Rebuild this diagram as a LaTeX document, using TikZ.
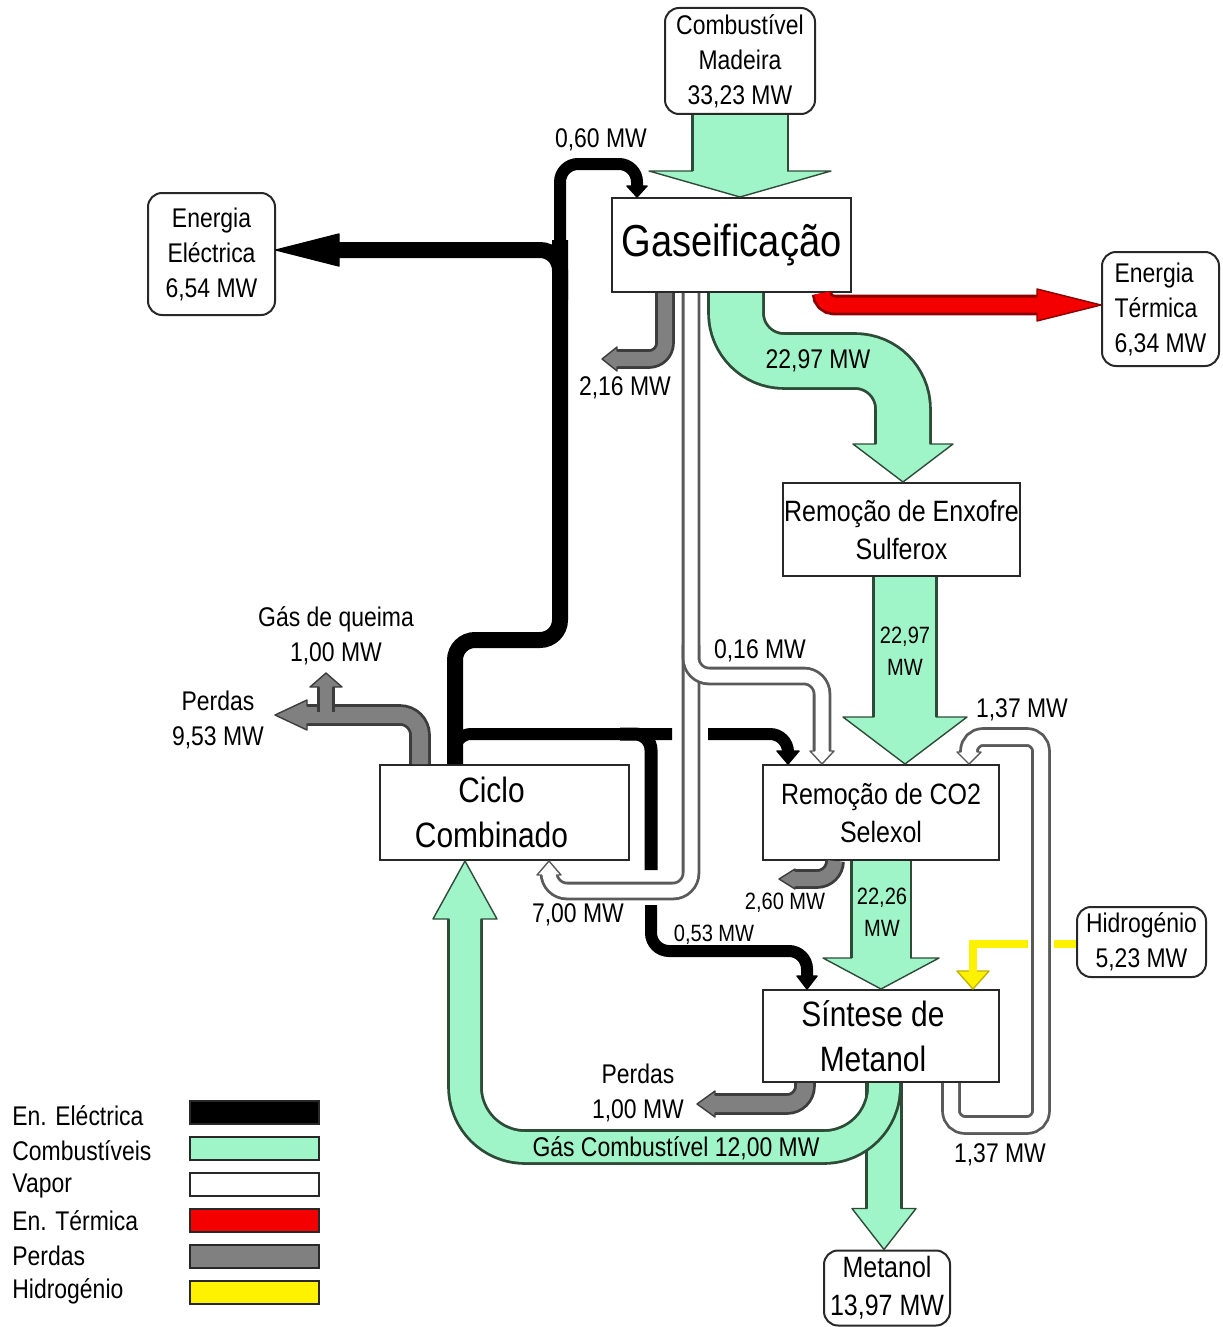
\documentclass[tikz,border=0pt]{standalone}
\usepackage{fontspec}
\setmainfont{Liberation Sans}[FakeStretch=0.85]
\definecolor{fuelfill}{RGB}{160,245,200}
\definecolor{fuelline}{RGB}{45,75,55}
\definecolor{steamfill}{RGB}{255,255,255}
\definecolor{steamline}{RGB}{90,90,90}
\definecolor{lossfill}{RGB}{128,128,128}
\definecolor{lossline}{RGB}{60,60,60}
\definecolor{heatfill}{RGB}{245,0,0}
\definecolor{heatline}{RGB}{140,0,0}
\definecolor{elecfill}{RGB}{0,0,0}
\definecolor{elecline}{RGB}{0,0,0}
\definecolor{hydrofill}{RGB}{255,242,0}
\definecolor{hydroline}{RGB}{190,180,0}
\definecolor{boxline}{RGB}{40,40,40}
\newcommand{\txtlabel}{\fontsize{13.5}{17.5}\selectfont}
\newcommand{\txtsmall}{\fontsize{11.8}{16}\selectfont}
\newcommand{\txtbox}{\fontsize{14.7}{19}\selectfont}
\newcommand{\txtbig}{\fontsize{17.6}{22.5}\selectfont}
\newcommand{\txtgas}{\fontsize{22.4}{26}\selectfont}
\newcommand{\flowtip}[6]{%
    \begin{scope}[shift={#2}, rotate=#3]
        \fill [#1fill] (-#6,-#5) -- (0,0) -- (-#6,#5) -- cycle;
        \draw [#1line, line width=0.7pt, line join=round] (-#6,-#4) -- (-#6,-#5) -- (0,0) -- (-#6,#5) -- (-#6,#4);
    \end{scope}}
\tikzset{
    proc/.style={draw=boxline, fill=white, line width=1pt, inner sep=0pt, align=center},
    ends/.style={proc, rounded corners=7pt},
    flowlabel/.style={font=\txtlabel, inner sep=0pt, align=center},
    pipe/.style 2 args={preaction={draw=#2, line width=\pgflinewidth+1.4pt}, draw=#1},
    fuel/.style={pipe={fuelfill}{fuelline}},
    steam/.style={pipe={steamfill}{steamline}},
    loss/.style={pipe={lossfill}{lossline}},
    heat/.style={pipe={heatfill}{heatline}},
    elec/.style={draw=elecfill},
    hydro/.style={draw=hydrofill}
}
\begin{document}
\begin{tikzpicture}[x=0.5pt,y=-0.5pt]
        \useasboundingbox (0,0) rectangle (1222,1327);
        \node [ends, font=\txtlabel, minimum width=75pt, minimum height=53pt] (comb) at (740,61) {Combustível\\Madeira\\33,23 MW};
        \node [proc, font=\txtgas, minimum width=119.5pt, minimum height=47pt] (gas) at (731.5,245) {Gaseificação};
        \node [ends, font=\txtlabel, minimum width=63.5pt, minimum height=61pt] (eel) at (211.5,254) {Energia\\Eléctrica\\6,54 MW};
        \node [ends, font=\txtlabel, align=left, minimum width=58.5pt, minimum height=57pt] (eterm) at (1160.5,309) {Energia\\Térmica\\6,34 MW};
        \node [proc, font=\txtbox, minimum width=118.5pt, minimum height=46.5pt] (enx) at (901.5,529.5) {Remoção de Enxofre\\Sulferox};
        \node [proc, font=\txtbig, minimum width=124.5pt, minimum height=47.5pt] (ciclo) at (504.5,812.5) {\hspace*{-13pt}Ciclo\\\hspace*{-13pt}Combinado};
        \node [proc, font=\txtbox, minimum width=118pt, minimum height=47.5pt] (co2) at (881,812.5) {Remoção de CO2\\Selexol};
        \node [proc, font=\txtbig, minimum width=118pt, minimum height=46pt] (sint) at (881,1036) {\hspace*{-8pt}Síntese de\\\hspace*{-8pt}Metanol};
        \node [ends, font=\txtlabel, minimum width=64.5pt, minimum height=35pt] (hid) at (1141.5,942) {Hidrogénio\\5,23 MW};
        \node [ends, font=\txtbox, minimum width=63pt, minimum height=37.5pt] (met) at (887,1288) {Metanol\\13,97 MW};
        \coordinate (lossgas) at (602,359);
        \coordinate (lossco2) at (779,879);
        \coordinate (losssint) at (697,1104);
        \coordinate (lossciclo) at (275,715);
        \coordinate (fluegas) at (326,673);

        \draw [hydro, line width=4pt] (hid.west |- 0,944) -- (1054,944);
        \draw [hydro, line width=4pt, shorten >=9pt] (1028,944) -- (973,944) -- (973,0 |- sint.north);
        \flowtip{hydro}{(973,0 |- sint.north)}{-90}{4}{16}{18}

        \draw [elec, line width=8pt, rounded corners=10pt] (455,0 |- ciclo.north) -- (455,640) -- (560,640) -- (560,240);
        \draw [elec, line width=6pt, rounded corners=9pt, shorten >=5.5pt] (560,260) -- (560,164) -- (637,164) -- (637,0 |- gas.north);
        \flowtip{elec}{(637,0 |- gas.north)}{-90}{6}{10}{11}
        \draw [elec, line width=8pt, rounded corners=10pt, shorten >=31.5pt] (560,300) -- (560,250) -- (eel.east |- 0,250);
        \flowtip{elec}{(eel.east |- 0,250)}{180}{8}{16}{63}
        \draw [elec, line width=6pt, rounded corners=8pt] (455,0 |- ciclo.north) -- (455,734) -- (672,734);
        \draw [elec, line width=6.5pt, rounded corners=8pt] (620,734) -- (651,734) -- (651,870);
        \draw [elec, line width=6pt, rounded corners=9pt, shorten >=6.5pt] (651,905) -- (651,951) -- (807,951) -- (807,0 |- sint.north);
        \flowtip{elec}{(807,0 |- sint.north)}{-90}{6}{10}{13}
        \draw [elec, line width=6pt, rounded corners=9pt, shorten >=6.5pt] (708,734) -- (788,734) -- (788,0 |- co2.north);
        \flowtip{elec}{(788,0 |- co2.north)}{-90}{6}{11}{13}

        \draw [steam, line width=6.5pt, rounded corners=9pt, shorten >=7pt] (691,0 |- gas.south) -- (691,891) -- (549,891) -- (549,0 |- ciclo.south);
        \flowtip{steam}{(549,0 |- ciclo.south)}{90}{7.2}{12}{14}
        \draw [steam, line width=6.5pt, rounded corners=9pt, shorten >=6.5pt] (691,645) -- (691,676) -- (822,676) -- (822,0 |- co2.north);
        \flowtip{steam}{(822,0 |- co2.north)}{-90}{7.2}{12}{13}
        \draw [steam, line width=7pt, rounded corners=7pt, shorten >=6pt] (951,0 |- sint.south) -- (951,1125) -- (1041,1125) -- (1041,737) -- (969,737) -- (969,0 |- co2.north);
        \flowtip{steam}{(969,0 |- co2.north)}{-90}{7.7}{12}{12}

        \draw [fuel, line width=46.5pt, shorten >=13pt] (740,0 |- comb.south) -- (740,0 |- gas.north);
        \flowtip{fuel}{(740,0 |- gas.north)}{-90}{47.2}{91}{26}
        \draw [fuel, line width=26pt, rounded corners=24pt, shorten >=19pt] (736,0 |- gas.south) -- (736,361) -- (903,361) -- (903,0 |- enx.north);
        \flowtip{fuel}{(903,0 |- enx.north)}{-90}{26.7}{50}{38}
        \draw [fuel, line width=30pt, shorten >=23.5pt] (905,0 |- enx.south) -- (905,0 |- co2.north);
        \flowtip{fuel}{(905,0 |- co2.north)}{-90}{30.7}{62}{47}
        \draw [fuel, line width=28.5pt, shorten >=15.5pt] (881,0 |- co2.south) -- (881,0 |- sint.north);
        \flowtip{fuel}{(881,0 |- sint.north)}{-90}{29.2}{58}{31}
        \draw [fuel, line width=16pt, shorten >=20.5pt] (884,0 |- sint.south) -- (884,0 |- met.north);
        \flowtip{fuel}{(884,0 |- met.north)}{-90}{16.7}{32}{41}
        \draw [fuel, line width=15pt, rounded corners=30pt, shorten >=29pt] (884,0 |- sint.south) -- (884,1147) -- (465,1147) -- (465,0 |- ciclo.south);
        \flowtip{fuel}{(465,0 |- ciclo.south)}{90}{15.7}{32}{58}

        \draw [heat, line width=7.5pt, rounded corners=6pt, shorten >=32pt] (822,0 |- gas.south) -- (822,305) -- (eterm.west |- 0,305);
        \flowtip{heat}{(eterm.west |- 0,305)}{0}{8.2}{16}{64}

        \draw [loss, line width=7pt, rounded corners=8pt, shorten >=7.5pt] (665,0 |- gas.south) -- (665,359) -- (lossgas);
        \flowtip{loss}{(lossgas)}{180}{7.7}{12}{15}
        \draw [loss, line width=7pt, rounded corners=9pt, shorten >=8pt] (835,0 |- co2.south) -- (835,879) -- (lossco2);
        \flowtip{loss}{(lossco2)}{180}{7.7}{10}{16}
        \draw [loss, line width=8pt, rounded corners=9pt, shorten >=9pt] (805,0 |- sint.south) -- (805,1104) -- (losssint);
        \flowtip{loss}{(losssint)}{180}{8.7}{13}{18}
        \draw [loss, line width=8pt, rounded corners=10pt, shorten >=16pt] (420,0 |- ciclo.north) -- (420,715) -- (lossciclo);
        \flowtip{loss}{(lossciclo)}{180}{8.7}{15}{32}
        \draw [loss, line width=6pt, shorten >=7pt] (326,712) -- (fluegas);
        \flowtip{loss}{(fluegas)}{90}{6.7}{16}{14}

        \node [flowlabel] (l060) at (601,140) {0,60 MW};
        \node [flowlabel] (l216) at (625,388) {2,16 MW};
        \node [flowlabel] (l2297a) at (818,361) {22,97 MW};
        \node [flowlabel, font=\txtsmall] (l2297b) at (905,651) {22,97\\MW};
        \node [flowlabel] (l016) at (760,651) {0,16 MW};
        \node [flowlabel] (l137a) at (1022,710) {1,37 MW};
        \node [flowlabel] (lflue) at (336,636) {Gás de queima\\1,00 MW};
        \node [flowlabel] (lperdas1) at (218,719.5) {Perdas\\9,53 MW};
        \node [flowlabel] (l700) at (578,915) {7,00 MW};
        \node [flowlabel, font=\txtsmall] (l260) at (785,903) {2,60 MW};
        \node [flowlabel, font=\txtsmall] (l2226) at (882,912.5) {22,26\\MW};
        \node [flowlabel, font=\txtsmall] (l053) at (714,935) {0,53 MW};
        \node [flowlabel] (lperdas2) at (638,1093) {Perdas\\1,00 MW};
        \node [flowlabel] (lfuelgas) at (676,1148) {Gás Combustível 12,00 MW};
        \node [flowlabel] (l137b) at (1000,1155) {1,37 MW};

        \foreach \name/\kind [count=\i from 0] in {En. Eléctrica/elec, Combustíveis/fuel, Vapor/steam, En. Térmica/heat, Perdas/loss, Hidrogénio/hydro} {
            \node [flowlabel, anchor=west] (leg\i) at (12,{1116+35*\i}) {\name};
            \draw [fill=\kind fill, draw=boxline, line width=0.8pt] (190,{1101+36*\i}) rectangle (319,{1124+36*\i});
        }
\end{tikzpicture}
\end{document}
